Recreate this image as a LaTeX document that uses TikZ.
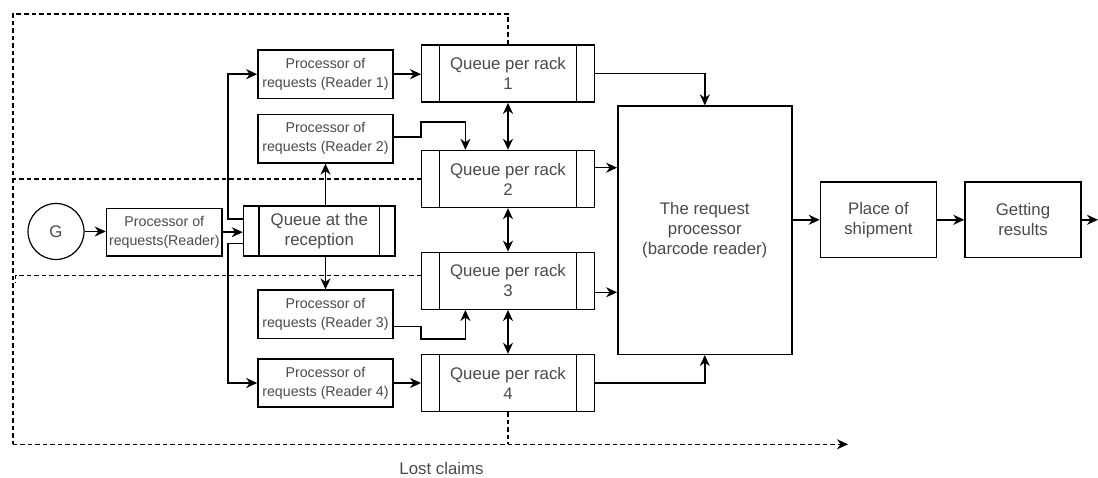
\documentclass[tikz,border=0pt]{standalone}
\usepackage{fontspec}
\setmainfont{Liberation Sans}
\usetikzlibrary{arrows.meta,calc}
\definecolor{txt}{HTML}{4A4A4A}
\tikzset{
  tip/.tip={Stealth[length=11pt,width=10pt,inset=3.5pt]},
  box/.style={draw, line width=1.4pt, fill=white, text=txt, align=center, inner sep=0pt,
    font=\fontsize{14.2}{19}\selectfont},
  bigtext/.style={font=\fontsize{16.8}{20}\selectfont},
  queue/.style={box, bigtext, minimum width=172.5pt, minimum height=57pt,
    path picture={\draw[line width=1.4pt]
      ([xshift=#1]path picture bounding box.north west) -- ([xshift=#1]path picture bounding box.south west)
      ([xshift=-#1]path picture bounding box.north east) -- ([xshift=-#1]path picture bounding box.south east);}},
  queue/.default=17.5pt,
  procbox/.style={box, minimum width=135.3pt, minimum height=48.3pt},
  arr/.style={line width=1.5pt, -tip},
  darr/.style={line width=1.5pt, tip-tip},
  dsh/.style={line width=1.2pt, dash pattern=on 4.5pt off 3pt},
}
\begin{document}
\begin{tikzpicture}[x=1pt,y=-1pt]
\useasboundingbox (0,0) rectangle (1098,478);

% nodes
\node[circle, draw, line width=1.2pt, minimum size=56pt, inner sep=0pt, text=txt, bigtext] (g) at (56,231.5) {G};
\node[box, minimum width=115.7pt, minimum height=47.7pt] (pr) at (164.3,232.2) {Processor of\\requests(Reader)};
\node[queue=15.5pt, minimum width=151.7pt, minimum height=50pt] (qr) at (319.3,231) {Queue at the\\reception};

\node[procbox] (p1) at (325.5,74.2) {Processor of\\requests (Reader 1)};
\node[procbox] (p2) at (325.5,138.8) {Processor of\\requests (Reader 2)};
\node[procbox] (p3) at (325.5,314.2) {Processor of\\requests (Reader 3)};
\node[procbox] (p4) at (325.5,383) {Processor of\\requests (Reader 4)};

\node[queue] (q1) at (508,73.7) {Queue per rack\\1};
\node[queue] (q2) at (508,179) {Queue per rack\\2};
\node[queue] (q3) at (508,280.8) {Queue per rack\\3};
\node[queue] (q4) at (508,383) {Queue per rack\\4};

\node[box, bigtext, minimum width=174pt, minimum height=248.3pt] (rp) at (704.8,230.2) {The request\\processor\\(barcode reader)};
\node[box, bigtext, minimum width=116pt, minimum height=75.7pt] (pos) at (878.4,219.8) {Place of\\shipment};
\node[box, bigtext, minimum width=116pt, minimum height=75.7pt] (gr) at (1023,219.8) {Getting\\results};

\node[text=txt, bigtext, inner sep=0pt] (lost) at (441.5,468.5) {Lost claims};

\coordinate (out) at (1098,219.8);
\coordinate (tl) at (12.9,14);
\coordinate (bl) at (12.9,444.3);
\coordinate (lostend) at (848,444.3);
\coordinate (lowtick) at (15.5,275.5);

% dashed lost-claims paths
\draw[dsh] (q1.north) |- (tl) -- (bl);
\draw[dsh, -tip] (bl) -- (lostend);
\draw[dsh] (q2.west) -- (q2.west -| tl);
\draw[dsh] ([yshift=5.3pt]q3.west) -- (lowtick) -- ++(0,7);
\draw[dsh] (q4.south) -- (q4.south |- bl);

% solid connectors
\draw[arr] (g.east) -- (g.east -| pr.west);
\draw[arr] (pr.east) -- (pr.east -| qr.west);
\draw[arr] ([yshift=12pt]qr.west) -- ++(-14.9,0) |- (p1.west);
\draw[arr] ([yshift=-12.3pt]qr.west) -- ++(-14.9,0) |- (p4.west);
\draw[arr] (p2.south |- qr.north) -- (p2.south);
\draw[arr] (p3.north |- qr.south) -- (p3.north);

\draw[arr] (p1.east) -- (p1.east -| q1.west);
\draw[arr] (p4.east) -- (p4.east -| q4.west);
\draw[arr] ([yshift=2pt]p2.east) -- ([yshift=2pt]p2.east -| q2.west) -- ++(0,-14.7) -| ([xshift=-42.6pt]q2.north);
\draw[arr] ([yshift=-12.5pt]p3.east) -- ([yshift=-12.5pt]p3.east -| q3.west) |- ([xshift=-42.6pt]q3.south |- p3.south) -- ([xshift=-42.6pt]q3.south);

\draw[darr] (q1.south) -- (q2.north);
\draw[darr] (q2.south) -- (q3.north);
\draw[darr] (q3.south) -- (q4.north);

\draw[arr] (q1.east) -| (rp.north);
\draw[arr] ([yshift=11.3pt]q2.east) -- ([yshift=11.3pt]q2.east -| rp.west);
\draw[arr] ([yshift=-11.5pt]q3.east) -- ([yshift=-11.5pt]q3.east -| rp.west);
\draw[arr] (q4.east) -| (rp.south);

\draw[arr] (pos.west -| rp.east) -- (pos.west);
\draw[arr] (pos.east) -- (gr.west);
\draw[arr] (gr.east) -- (out);
\end{tikzpicture}
\end{document}
